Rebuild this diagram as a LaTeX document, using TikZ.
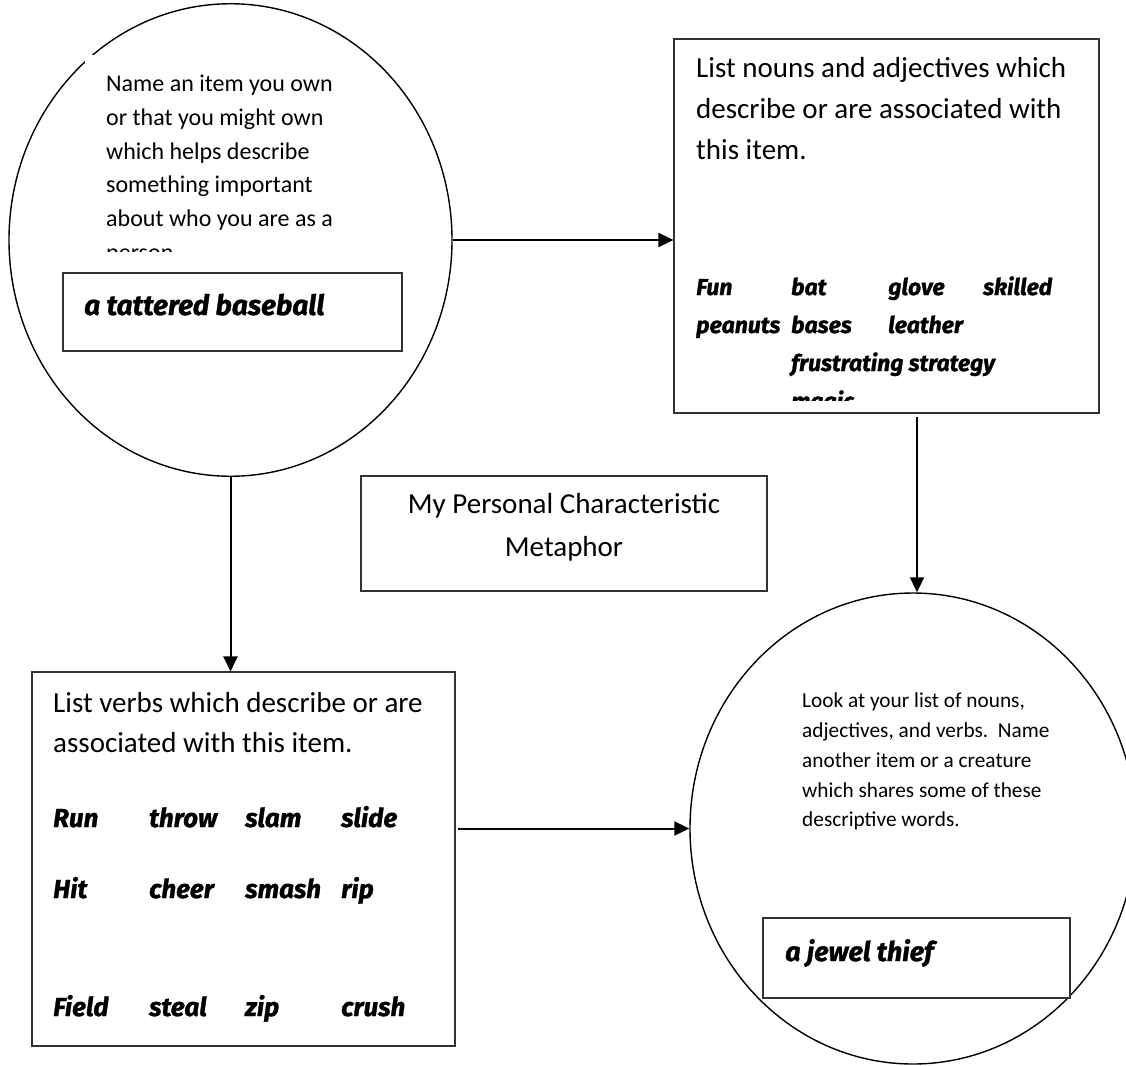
\documentclass[tikz,border=0pt]{standalone}
\usepackage{fontspec}
\setmainfont{Carlito}
\newfontfamily\brushfont{Fira Sans}[BoldItalicFeatures={FakeBold=1.2}]
\usetikzlibrary{shapes.geometric,arrows.meta}
\begin{document}
\begin{tikzpicture}[x=1pt,y=-1pt,
  oval/.style={ellipse,draw,line width=1.4pt,inner sep=0pt},
  panel/.style={rectangle,draw=black!80,line width=1.1pt,inner sep=0pt},
  answer/.style={rectangle,draw=black!80,fill=white,line width=1.1pt,inner sep=0pt},
  arr/.style={line width=2pt,-{Triangle[length=15pt,width=14pt]}},
  prompt/.style={anchor=base west,inner sep=0pt},
  word/.style={anchor=base west,inner sep=0pt,font=\brushfont\bfseries\itshape\fontsize{#1}{#1}\selectfont},
  word/.default=23,
]
\useasboundingbox (0,0) rectangle (1126,1065);

% ---- first step: the item (top left)
\node[oval,minimum width=443,minimum height=472.5] (tl) at (230.5,240) {};
\fill[white] (85,55) rectangle (360,252);
\begin{scope}
  \clip (85,55) rectangle (360,251);
  \foreach \t [count=\i] in {Name an item you own,or that you might own,which helps describe,something important,about who you are as a,person.}
    \node[prompt,font=\fontsize{24}{28}\selectfont] (ask\i) at (106,{91.7+33.7*(\i-1)}) {\t};
\end{scope}
\node[answer,minimum width=339,minimum height=78] (item) at (232.5,312) {};
\node[word=28] (itemtxt) at (84,315) {a tattered baseball};

% ---- nouns and adjectives (top right)
\node[panel,minimum width=425,minimum height=374] (tr) at (886.5,226) {};
\foreach \t [count=\i] in {List nouns and adjectives which,describe or are associated with,this item.}
  \node[prompt,font=\fontsize{29}{33}\selectfont] (nq\i) at (696,{77.7+41*(\i-1)}) {\t};
\begin{scope}
  \clip (676,41) rectangle (1097,400);
  \node[word] (n1) at (696,295) {Fun};
  \node[word] (n2) at (791,295) {bat};
  \node[word] (n3) at (888,295) {glove};
  \node[word] (n4) at (983,295) {skilled};
  \node[word] (n5) at (696,333) {peanuts};
  \node[word] (n6) at (791,333) {bases};
  \node[word] (n7) at (888,333) {leather};
  \node[word] (n8) at (791,371) {frustrating strategy};
  \node[word] (n9) at (791,409) {magic};
\end{scope}

% ---- title
\node[panel,minimum width=406,minimum height=115] (mid) at (564,533.5) {};
\node[anchor=base,inner sep=0pt,font=\fontsize{29}{33}\selectfont] (ttl1) at (564,513) {My Personal Characteristic};
\node[anchor=base,inner sep=0pt,font=\fontsize{29}{33}\selectfont] (ttl2) at (564,556) {Metaphor};

% ---- verbs (bottom left)
\node[panel,minimum width=423,minimum height=374] (vb) at (243.5,859) {};
\foreach \t [count=\i] in {List verbs which describe or are,associated with this item.}
  \node[prompt,font=\fontsize{29}{33}\selectfont] (vq\i) at (53,{712+40*(\i-1)}) {\t};
\foreach \w [count=\i] in {Run,throw,slam,slide}
  \node[word=26] (va\i) at ({53+96*(\i-1)},827) {\w};
\foreach \w [count=\i] in {Hit,cheer,smash,rip}
  \node[word=26] (vb\i) at ({53+96*(\i-1)},898) {\w};
\foreach \w [count=\i] in {Field,steal,zip,crush}
  \node[word=26] (vc\i) at ({53+96*(\i-1)},1016) {\w};

% ---- the metaphor (bottom right)
\node[oval,minimum width=446,minimum height=471] (br) at (913,828.5) {};
\foreach \t [count=\i] in {{Look at your list of nouns,},{adjectives, and verbs.\ \ Name},another item or a creature,which shares some of these,descriptive words.}
  \node[prompt,font=\fontsize{21.3}{25}\selectfont] (lq\i) at (802,{707.7+29.8*(\i-1)}) {\t};
\node[answer,minimum width=307,minimum height=80] (meta) at (916.5,958) {};
\node[word=27] (metatxt) at (785,961) {a jewel thief};

% ---- connectors
\coordinate (a2s) at (917,417);
\coordinate (a4s) at (458,828.5);
\draw[arr] (tl.east) -- (tl.east -| tr.west);
\draw[arr] (a2s) -- (a2s |- br.north);
\draw[arr] (tl.south) -- (tl.south |- vb.north);
\draw[arr] (a4s) -- (a4s -| br.west);
\end{tikzpicture}
\end{document}
